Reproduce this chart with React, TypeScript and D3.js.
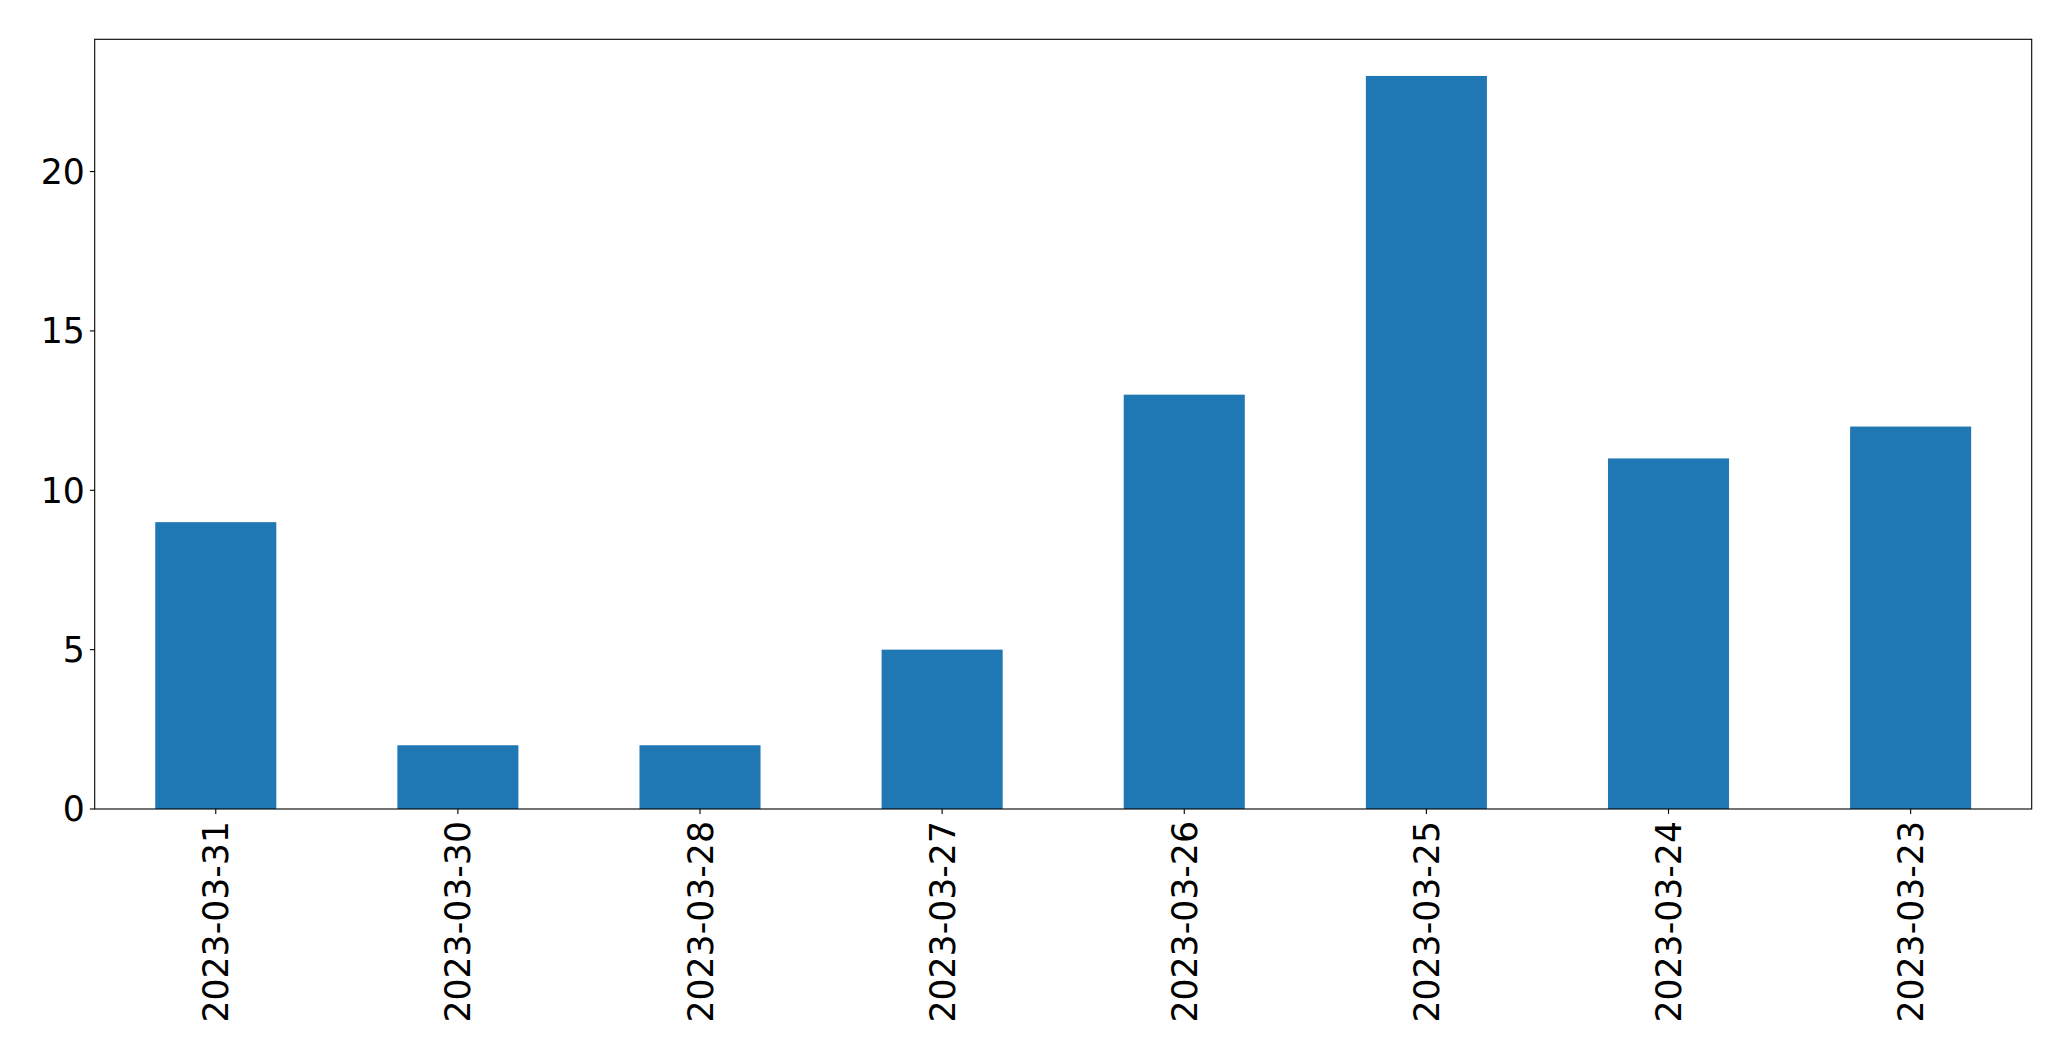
import React from "react";
import * as d3 from "d3";

const categories = ["2023-03-31", "2023-03-30", "2023-03-28", "2023-03-27", "2023-03-26", "2023-03-25", "2023-03-24", "2023-03-23"];
const values = [9, 2, 2, 5, 13, 23, 11, 12];
const yTicks = [0, 5, 10, 15, 20];

const W = 2071, H = 1061;
const M = { left: 94.7, right: 2031.7, top: 39.3, bottom: 809 };
const FONT = "'DejaVu Sans', sans-serif";
const FS = 34.7;

export default function App() {
  const x = d3.scaleBand<string>().domain(categories).range([M.left, M.right]).paddingInner(0.5).paddingOuter(0.25);
  const y = d3.scaleLinear().domain([0, d3.max(values)! * 1.05]).range([M.bottom, M.top]);
  return (
    <svg width={W} height={H} style={{ position: "absolute", left: 0, top: 0, background: "#fff" }}>
      {categories.map((c, i) => (
        <rect key={c} x={x(c)} y={y(values[i])} width={x.bandwidth()} height={y(0) - y(values[i])} fill="#1f77b4" />
      ))}
      <rect x={M.left} y={M.top} width={M.right - M.left} height={M.bottom - M.top} fill="none" stroke="#000" strokeWidth={1.1} />
      {yTicks.map((t) => (
        <g key={t}>
          <line x1={M.left - 4.9} x2={M.left} y1={y(t)} y2={y(t)} stroke="#000" strokeWidth={1.1} />
          <text x={M.left - 9.8} y={y(t)} dy="0.36em" textAnchor="end" fontFamily={FONT} fontSize={FS} fill="#000">{t}</text>
        </g>
      ))}
      {categories.map((c) => {
        const cx = x(c)! + x.bandwidth() / 2;
        return (
          <g key={c}>
            <line x1={cx} x2={cx} y1={M.bottom} y2={M.bottom + 4.9} stroke="#000" strokeWidth={1.1} />
            <text transform={`translate(${cx},${M.bottom + 12}) rotate(-90)`} dy="0.36em" textAnchor="end" fontFamily={FONT} fontSize={FS} fill="#000">{c}</text>
          </g>
        );
      })}
    </svg>
  );
}
